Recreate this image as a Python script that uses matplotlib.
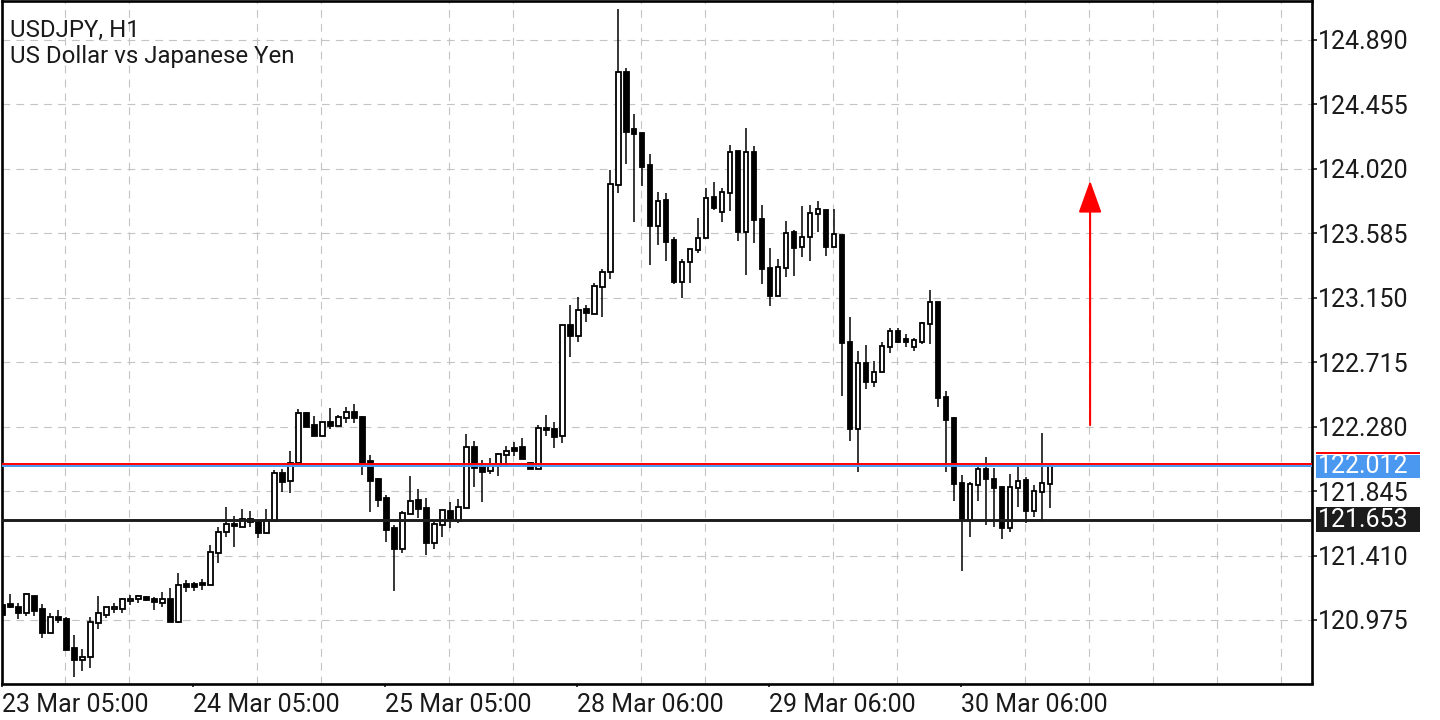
import matplotlib
matplotlib.use("Agg")
import matplotlib.pyplot as plt
from matplotlib.patches import Rectangle
from matplotlib.transforms import blended_transform_factory

plt.rcParams["font.family"] = ["Roboto", "DejaVu Sans"]

# -*- USDJPY H1 bars (open, high, low, close), 23 Mar 05:00 onwards
opens = [
    121.076, 121.083, 121.063, 121.022, 121.137, 121.049, 120.887, 120.995, 120.982, 120.786,
    120.705, 120.725, 120.955, 121.009, 121.049, 121.049, 121.103, 121.117, 121.130, 121.117,
    121.090, 121.117, 120.962, 121.218, 121.218, 121.225, 121.211, 121.427, 121.569, 121.623,
    121.603, 121.657, 121.643, 121.562, 121.643, 121.967, 121.913, 122.035, 122.372, 122.291,
    122.217, 122.312, 122.285, 122.338, 122.379, 122.345, 122.048, 121.927, 121.799, 121.596,
    121.454, 121.691, 121.785, 121.731, 121.495, 121.616, 121.711, 121.643, 121.731, 122.143,
    122.008, 121.981, 122.015, 122.089, 122.136, 122.143, 122.035, 121.994, 122.271, 122.264,
    122.217, 122.966, 122.892, 123.074, 123.041, 123.223, 123.324, 123.911, 124.674, 124.289,
    124.262, 124.046, 123.635, 123.810, 123.540, 123.257, 123.392, 123.473, 123.554, 123.830,
    123.729, 123.857, 124.141, 123.594, 124.134, 123.682, 123.351, 123.162, 123.351, 123.594,
    123.493, 123.560, 123.716, 123.743, 123.493, 123.574, 122.852, 122.264, 122.710, 122.582,
    122.649, 122.818, 122.926, 122.872, 122.818, 122.852, 122.973, 123.122, 122.480, 122.339,
    121.900, 121.650, 121.886, 121.994, 121.927, 121.873, 121.596, 121.866, 121.920, 121.711,
    121.839, 121.893,
]
highs = [
    121.090, 121.151, 121.090, 121.157, 121.137, 121.083, 121.022, 121.042, 120.995, 120.874,
    120.779, 120.995, 121.137, 121.063, 121.090, 121.124, 121.144, 121.144, 121.137, 121.130,
    121.164, 121.191, 121.292, 121.245, 121.232, 121.252, 121.481, 121.603, 121.738, 121.677,
    121.724, 121.711, 121.650, 121.724, 121.987, 121.994, 122.116, 122.399, 122.379, 122.352,
    122.312, 122.406, 122.359, 122.413, 122.433, 122.352, 122.089, 121.934, 121.819, 121.616,
    121.711, 121.947, 121.859, 121.799, 121.650, 121.718, 121.771, 121.792, 122.231, 122.183,
    122.055, 122.069, 122.102, 122.150, 122.177, 122.204, 122.035, 122.291, 122.359, 122.312,
    122.966, 123.101, 123.155, 123.101, 123.250, 123.344, 124.013, 125.099, 124.701, 124.391,
    124.262, 124.121, 123.864, 123.857, 123.560, 123.412, 123.479, 123.689, 123.891, 123.932,
    123.891, 124.181, 124.141, 124.296, 124.175, 123.776, 123.486, 123.412, 123.668, 123.608,
    123.770, 123.776, 123.803, 123.743, 123.749, 123.574, 123.020, 122.791, 122.831, 122.723,
    122.852, 122.946, 122.946, 122.906, 122.879, 122.987, 123.203, 123.122, 122.521, 122.345,
    121.954, 121.907, 122.008, 122.075, 122.001, 121.880, 121.961, 122.035, 121.940, 121.886,
    122.237, 122.022,
]
lows = [
    120.995, 121.056, 120.982, 121.002, 121.002, 120.854, 120.887, 120.955, 120.773, 120.590,
    120.631, 120.651, 120.914, 120.989, 121.022, 121.022, 121.076, 121.090, 121.103, 121.042,
    121.063, 120.962, 120.955, 121.164, 121.171, 121.177, 121.211, 121.360, 121.535, 121.468,
    121.603, 121.603, 121.529, 121.562, 121.643, 121.839, 121.832, 122.035, 122.278, 122.217,
    122.217, 122.264, 122.285, 122.305, 122.305, 121.954, 121.704, 121.738, 121.502, 121.171,
    121.427, 121.691, 121.664, 121.414, 121.454, 121.535, 121.596, 121.630, 121.731, 121.873,
    121.771, 121.961, 121.947, 122.008, 122.082, 122.062, 121.994, 121.994, 122.217, 122.136,
    122.170, 122.750, 122.852, 122.986, 123.041, 123.020, 123.277, 123.857, 124.053, 123.662,
    123.905, 123.371, 123.506, 123.398, 123.243, 123.149, 123.250, 123.452, 123.554, 123.743,
    123.662, 123.736, 123.533, 123.304, 123.520, 123.243, 123.095, 123.162, 123.290, 123.297,
    123.425, 123.398, 123.594, 123.432, 123.493, 122.487, 122.183, 121.974, 122.534, 122.548,
    122.649, 122.777, 122.845, 122.818, 122.791, 122.838, 122.838, 122.413, 121.974, 121.778,
    121.306, 121.535, 121.778, 121.616, 121.603, 121.522, 121.569, 121.738, 121.630, 121.670,
    121.637, 121.731,
]
closes = [
    121.009, 121.063, 121.022, 121.151, 121.036, 120.887, 120.995, 120.975, 120.773, 120.705,
    120.725, 120.962, 121.022, 121.063, 121.063, 121.117, 121.117, 121.137, 121.110, 121.097,
    121.117, 120.962, 121.211, 121.198, 121.198, 121.211, 121.434, 121.569, 121.623, 121.610,
    121.657, 121.637, 121.562, 121.650, 121.967, 121.907, 122.035, 122.372, 122.278, 122.217,
    122.312, 122.285, 122.345, 122.379, 122.338, 122.035, 121.913, 121.785, 121.583, 121.454,
    121.697, 121.778, 121.724, 121.495, 121.623, 121.718, 121.650, 121.738, 122.143, 122.001,
    121.974, 122.015, 122.096, 122.116, 122.116, 122.062, 121.994, 122.271, 122.258, 122.210,
    122.966, 122.892, 123.068, 123.047, 123.230, 123.324, 123.918, 124.674, 124.269, 124.256,
    124.033, 123.635, 123.803, 123.527, 123.257, 123.392, 123.479, 123.554, 123.824, 123.756,
    123.864, 124.134, 123.594, 124.134, 123.675, 123.344, 123.162, 123.358, 123.587, 123.486,
    123.560, 123.722, 123.749, 123.493, 123.581, 122.845, 122.264, 122.710, 122.582, 122.649,
    122.825, 122.926, 122.852, 122.852, 122.865, 122.980, 123.122, 122.474, 122.325, 121.893,
    121.650, 121.893, 121.994, 121.927, 121.866, 121.596, 121.873, 121.913, 121.711, 121.846,
    121.900, 122.012,
]

date_labels = ["23 Mar 05:00", "24 Mar 05:00", "25 Mar 05:00",
               "28 Mar 06:00", "29 Mar 06:00", "30 Mar 06:00"]
date_bars = [0, 24, 48, 72, 96, 120]
price_ticks = [124.890, 124.455, 124.020, 123.585, 123.150,
               122.715, 122.280, 121.845, 121.410, 120.975]

bid = 122.012
ask = 122.027
level = 121.653
arrow_bar = 136
arrow_from = 122.29
arrow_to = 123.94

W, H = 1440, 720
fig = plt.figure(figsize=(W / 100, H / 100), dpi=100)
ax = fig.add_axes([1.5 / W, 1 - 683.5 / H, 1310 / W, 682.2 / H])

xs = list(range(len(opens)))

# wicks first, bodies on top
ax.vlines(xs, lows, highs, color="black", lw=1.1, zorder=3)
bottoms = [min(o, c) for o, c in zip(opens, closes)]
heights = [abs(c - o) for o, c in zip(opens, closes)]
faces = ["white" if c > o else "black" for o, c in zip(opens, closes)]
ax.bar(xs, heights, bottom=bottoms, width=0.56, color=faces,
       edgecolor="black", linewidth=1.3, zorder=4)

# bid / ask / level lines
ax.axhline(ask, color="#ff0000", lw=1.4, zorder=5)
ax.axhline(bid, color="#4a98f0", lw=1.4, zorder=5)
ax.axhline(level, color="#1c1c1c", lw=2.1, zorder=5)

# red arrow
ax.annotate("", xy=(arrow_bar, arrow_to), xytext=(arrow_bar, arrow_from),
            arrowprops=dict(arrowstyle="-|>,head_length=1.0,head_width=0.36",
                            mutation_scale=20, color="#ff0000", lw=1.5,
                            shrinkA=0, shrinkB=0), zorder=6)

# axes / grid
ax.set_xlim(-0.0625, -0.0625 + 1310 / 8)
ax.set_ylim(120.546, 125.151)
ax.yaxis.tick_right()
ax.set_yticks(price_ticks)
ax.set_yticklabels([f"{p:.3f}" for p in price_ticks])
ax.set_xticks([b - 0.125 for b in date_bars])
ax.set_xticklabels(date_labels, ha="left")
ax.set_xticks([8 * m - 0.125 for m in range(21)], minor=True)
ax.tick_params(axis="y", direction="out", length=3.6, width=1.2, pad=1.2,
               labelsize=18, colors="#1a1a1a")
ax.tick_params(axis="x", which="major", direction="out", length=2.5, width=1.2,
               pad=4, labelsize=18, colors="#1a1a1a")
ax.tick_params(axis="x", which="minor", length=0)
ax.grid(which="minor", axis="x", color="#c4c4c4", lw=0.8, ls=(0, (7, 5.5)))
ax.grid(which="major", axis="y", color="#c4c4c4", lw=0.8, ls=(0, (7, 5.5)))
ax.set_axisbelow(True)
for s in ax.spines.values():
    s.set_linewidth(1.9)
    s.set_color("black")

# price labels on the right
tr = blended_transform_factory(fig.transFigure, ax.transData)
ax.add_patch(Rectangle((1316 / W, bid - 0.078), 104 / W, 0.155,
                       transform=tr, facecolor="#4a98f0", edgecolor="none",
                       clip_on=False, zorder=7))
ax.add_patch(Rectangle((1316 / W, bid + 0.085), 104 / W, 0.013,
                       transform=tr, facecolor="#ff0000", edgecolor="none",
                       clip_on=False, zorder=7))
ax.add_patch(Rectangle((1316 / W, level - 0.085), 104 / W, 0.17,
                       transform=tr, facecolor="#1c1c1c", edgecolor="none",
                       clip_on=False, zorder=7))
ax.text(1318 / W, bid, f"{bid:.3f}", transform=tr, color="white", fontsize=18,
        va="center", ha="left", zorder=8, clip_on=False)
ax.text(1318 / W, level, f"{level:.3f}", transform=tr, color="white", fontsize=18,
        va="center", ha="left", zorder=8, clip_on=False)

# title text
fig.text(10 / W, 1 - 36.7 / H, "USDJPY, H1", fontsize=17.3, color="#1a1a1a",
         va="baseline", ha="left")
fig.text(10 / W, 1 - 62.7 / H, "US Dollar vs Japanese Yen", fontsize=17.3,
         color="#1a1a1a", va="baseline", ha="left")

fig.savefig("out.png", dpi=100, facecolor="white")
